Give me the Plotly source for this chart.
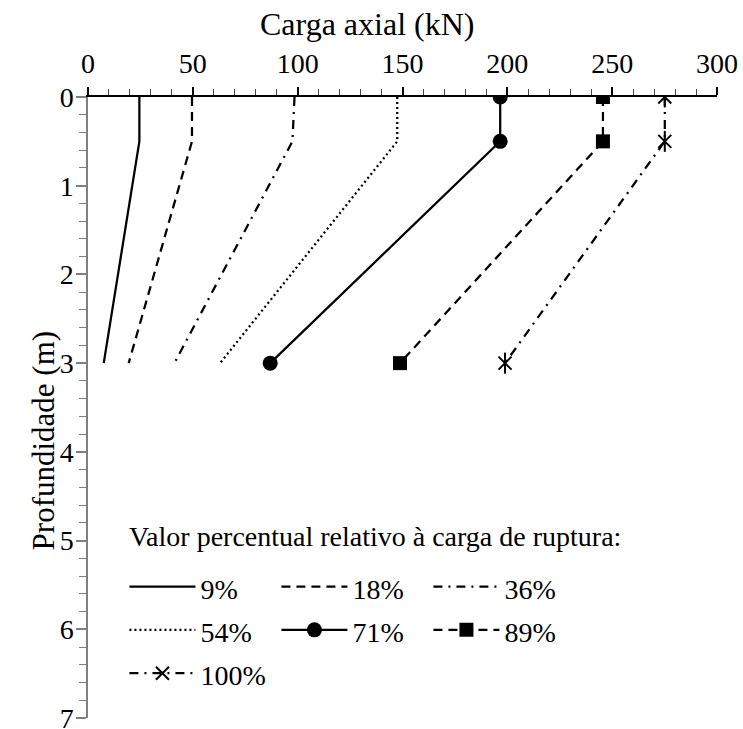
import plotly.graph_objects as go

depth = [0, 0.5, 3]
series_names = ["9%", "18%", "36%", "54%", "71%", "89%", "100%"]
load_9 = [24.5, 24.5, 7.5]
load_18 = [49.6, 49.6, 19.4]
load_36 = [98.5, 97.5, 41.2]
load_54 = [147.5, 147.5, 63]
load_71 = [196.6, 196.6, 86.9]
load_89 = [245.6, 245.6, 148.8]
load_100 = [275.1, 275.1, 198.9]

x_ticks = [0, 50, 100, 150, 200, 250, 300]
y_ticks = [0, 1, 2, 3, 4, 5, 6, 7]

FONT = "'Liberation Serif', 'Times New Roman', Times, 'DejaVu Serif', serif"
W = 2.25

fig = go.Figure()

def add(name, xs, dash, symbol=None):
    mode = "lines+markers" if symbol else "lines"
    marker = None
    if symbol == "circle":
        marker = dict(symbol="circle", size=15, color="black")
    elif symbol == "square":
        marker = dict(symbol="square", size=14, color="black")
    elif symbol == "star":
        marker = dict(symbol="x-thin-open", size=13, color="black",
                      line=dict(color="black", width=2))
    label = "<span style='font-size:28px'>" + name + "</span>"
    fig.add_trace(go.Scatter(x=xs, y=depth, name=label, mode=mode,
                             line=dict(color="black", width=W, dash=dash),
                             marker=marker, legendgroup=name))
    if symbol == "star":
        fig.add_trace(go.Scatter(x=xs, y=depth, mode="markers", showlegend=False,
                                 legendgroup=name, hoverinfo="skip",
                                 marker=dict(symbol="line-ns-open", size=15, color="black",
                                             line=dict(color="black", width=2))))

add(series_names[0], load_9, "solid")
add(series_names[1], load_18, "9px,6px")
add(series_names[2], load_36, "9px,6px,2px,6px")
add(series_names[3], load_54, "2px,3px")
add(series_names[4], load_71, "solid", "circle")
add(series_names[5], load_89, "9px,6px", "square")
add(series_names[6], load_100, "9px,6px,2px,6px", "star")

fig.update_layout(
    width=743, height=729,
    margin=dict(l=87.5, r=25.5, t=97.3, b=11),
    plot_bgcolor="white", paper_bgcolor="white",
    font=dict(family=FONT, size=28, color="black"),
    showlegend=True,
    legend=dict(
        orientation="h", x=0.0745, y=1 - (560 - 97.3) / 620.7, xanchor="left", yanchor="top",
        entrywidth=71, entrywidthmode="pixels", itemwidth=66, tracegroupgap=0,
        font=dict(family=FONT, size=31, color="black"),
        bgcolor="rgba(0,0,0,0)",
    ),
    xaxis=dict(
        side="top", range=[0, 300], tickvals=x_ticks, ticktext=[str(v) for v in x_ticks],
        showgrid=False, zeroline=False, showline=True, linecolor="black", linewidth=1.5,
        ticks="outside", ticklen=8, tickwidth=1.5, tickcolor="black",
        ticklabelstandoff=3, automargin=False, ticklabeloverflow="allow",
        minor=dict(dtick=10, ticks="outside", ticklen=6, tickwidth=1.2, tickcolor="#444", showgrid=False),
        tickfont=dict(family=FONT, size=28, color="black"),
    ),
    yaxis=dict(
        range=[7, 0], tickvals=y_ticks, ticktext=[str(v) for v in y_ticks],
        showgrid=False, zeroline=False, showline=True, linecolor="#7f7f7f", linewidth=1.5,
        ticks="outside", ticklen=10, tickwidth=1.5, tickcolor="#7f7f7f",
        ticklabelstandoff=-3, automargin=False, ticklabeloverflow="allow",
        minor=dict(dtick=0.2, ticks="outside", ticklen=7, tickwidth=1.2, tickcolor="#7f7f7f", showgrid=False),
        tickfont=dict(family=FONT, size=28, color="black"),
    ),
    annotations=[
        dict(text="Carga axial (kN)", xref="paper", yref="paper",
             x=(367 - 87.5) / 630, y=1 + (97.3 - 24) / 620.7,
             xanchor="center", yanchor="middle", showarrow=False,
             font=dict(family=FONT, size=32, color="black")),
        dict(text="Profundidade (m)", xref="paper", yref="paper",
             x=(43 - 87.5) / 630, y=1 - (441 - 97.3) / 620.7,
             xanchor="center", yanchor="middle", textangle=-90, showarrow=False,
             font=dict(family=FONT, size=31, color="black")),
        dict(text="Valor percentual relativo à carga de ruptura:", xref="paper", yref="paper",
             x=(127 - 87.5) / 630, y=1 - (537 - 97.3) / 620.7,
             xanchor="left", yanchor="middle", showarrow=False,
             font=dict(family=FONT, size=28, color="black")),
    ],
)

fig.write_html("out.html", config={"displayModeBar": False},
               post_script="document.body.style.margin='0';document.body.style.padding='0';document.body.style.overflow='hidden';")
